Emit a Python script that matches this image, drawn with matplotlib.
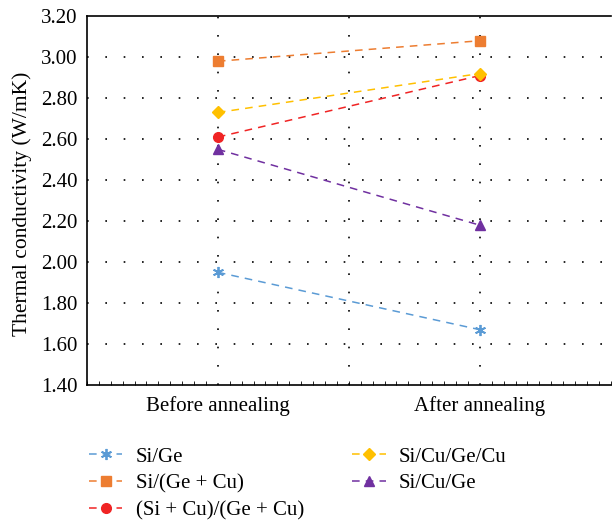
import matplotlib
matplotlib.use('Agg')
import matplotlib.pyplot as plt
from matplotlib.ticker import MultipleLocator, FormatStrFormatter

plt.rcParams['font.family'] = ['Liberation Serif', 'DejaVu Serif']

stages = ['Before annealing', 'After annealing']
series_names = ['Si/Ge', 'Si/(Ge + Cu)', '(Si + Cu)/(Ge + Cu)', 'Si/Cu/Ge/Cu', 'Si/Cu/Ge']
si_ge = [1.95, 1.67]
si_gecu = [2.98, 3.08]
sicu_gecu = [2.61, 2.91]
si_cu_ge_cu = [2.73, 2.92]
si_cu_ge = [2.55, 2.18]

colors = ['#5B9BD5', '#ED7D31', '#F02424', '#FFC000', '#7030A0']
markers = [(6, 2, 0), 's', 'o', 'D', '^']
msizes = [8, 7, 7, 6, 7]

fig = plt.figure(figsize=(6.12, 5.21), dpi=100)
ax = fig.add_axes([0.142, 0.261, 0.856, 0.708])

xs = list(range(len(stages)))
for vals, name, c, m, ms in zip([si_ge, si_gecu, sicu_gecu, si_cu_ge_cu, si_cu_ge],
                                series_names, colors, markers, msizes):
    mew = 1.3 if m == (6, 2, 0) else 1
    ax.plot(xs, vals, linestyle=(0, (5, 4)), color=c, lw=1.1, marker=m,
            markersize=ms, markeredgewidth=mew, label=name)

ax.set_xlim(-0.5, 1.5)
ax.set_ylim(1.4, 3.2)
ax.set_xticks(xs)
ax.set_xticklabels(stages, fontsize=15)
ax.yaxis.set_major_locator(MultipleLocator(0.2))
ax.yaxis.set_major_formatter(FormatStrFormatter('%.2f'))
ax.tick_params(axis='y', labelsize=15, length=0, pad=7)
ax.tick_params(axis='x', length=0, pad=8)
ax.xaxis.set_minor_locator(MultipleLocator(1 / 22))
ax.tick_params(axis='x', which='minor', direction='in', length=3, width=0.6)
ax.set_ylabel('Thermal conductivity (W/mK)', fontsize=15.5)
ax.yaxis.set_label_coords(-0.105, 0.49)

# dotted grid: horizontal at y ticks, vertical at categories and midpoint
for y in [1.6, 1.8, 2.0, 2.2, 2.4, 2.6, 2.8, 3.0]:
    ax.axhline(y, color='black', lw=1.2, linestyle=(0, (1, 10)), zorder=0)
for x in [0, 0.5, 1]:
    ax.axvline(x, color='black', lw=1.2, linestyle=(0, (1, 10)), zorder=0)

for side in ['top', 'left', 'bottom']:
    ax.spines[side].set_linewidth(1.2)
ax.spines['right'].set_visible(False)

fig.legend(loc='upper left', bbox_to_anchor=(0.115, 0.178), ncol=2, frameon=False,
           fontsize=15, handlelength=1.6, columnspacing=2.3, labelspacing=0.35,
           handletextpad=0.65)

fig.savefig('out.png', dpi=100)
